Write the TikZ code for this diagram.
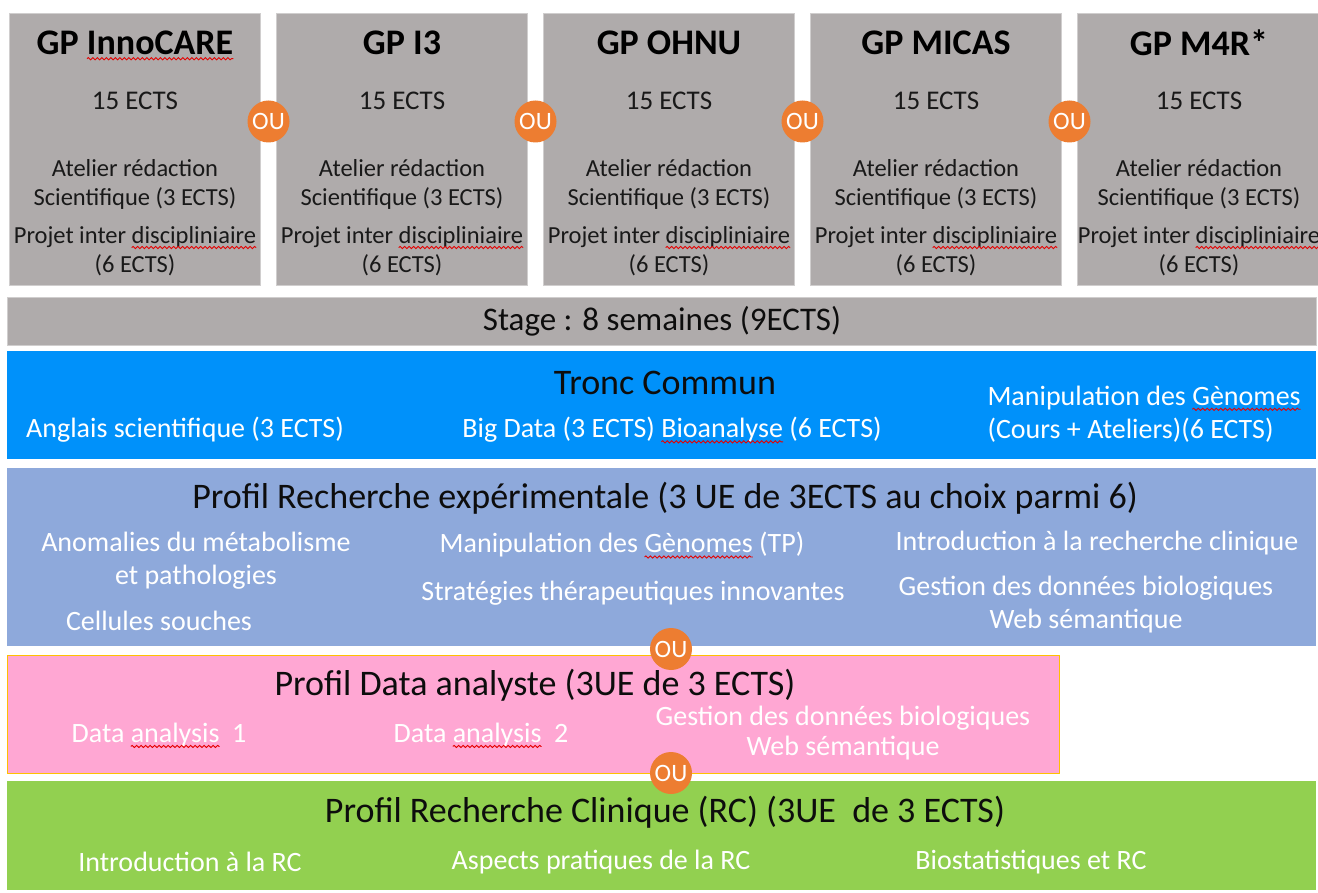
\documentclass[tikz,border=0pt]{standalone}
\usepackage{fontspec}
\setmainfont{Carlito}
\usetikzlibrary{positioning,calc,decorations.pathmorphing}

\definecolor{gpgray}{HTML}{AFABAB}
\definecolor{gpedge}{HTML}{D0CECE}
\definecolor{tcblue}{HTML}{0091FA}
\definecolor{reblue}{HTML}{8EA9DB}
\definecolor{dapink}{HTML}{FFA7D3}
\definecolor{daedge}{HTML}{FFC000}
\definecolor{rcgreen}{HTML}{92D050}
\definecolor{ouorange}{HTML}{ED7D31}

% wavy red spell-check line under a word
\newcommand\spell[1]{\tikz[baseline=(sw.base)]{\node[inner sep=0pt,outer sep=0pt,minimum size=0pt,anchor=center,draw=none,fill=none] (sw) {#1};
  \draw[overlay,red!90!black,line width=0.9pt,decorate,decoration={snake,amplitude=1.1pt,segment length=4.5pt}]
    ([yshift=-4pt]sw.base west) -- ([yshift=-4pt]sw.base east);}}

\newcommand\gpbody{{\fontsize{27}{29}\selectfont 15 ECTS}\\[38pt]Atelier rédaction\\Scientifique (3 ECTS)\\[9pt]Projet inter \spell{discipliniaire}\\(6 ECTS)}

\begin{document}
\begin{tikzpicture}[x=1pt, y=-1pt, node distance=15pt,
gpbox/.style = {draw=gpedge, line width=1pt, fill=gpgray, minimum width=251pt, minimum height=272pt, inner sep=0pt, anchor=north west},
gptitle/.style = {font=\fontsize{36}{43}\selectfont\bfseries, text=black},
gptext/.style = {font=\fontsize{24.5}{29}\selectfont, align=center, text=black!90},
band/.style = {anchor=north west, inner sep=0pt},
bandtitle/.style = {font=\fontsize{36}{43}\selectfont, text=black!95},
item/.style = {font=\fontsize{28}{33}\selectfont, text=white, align=center},
ou/.style = {circle, fill=ouorange, text=white, minimum size=42pt, inner sep=0pt, font=\fontsize{25}{25}\selectfont}]
    \useasboundingbox (0,0) rectangle (1318,893);
    \fill[white] (0,0) rectangle (1318,893);

    % grands projets
    \node [gpbox] at (9,13)      (g1) {};
    \node [gpbox, right=of g1]   (g2) {};
    \node [gpbox, right=of g2]   (g3) {};
    \node [gpbox, right=of g3]   (g4) {};
    \node [gpbox, right=of g4, minimum width=243pt] (g5) {};
    \node [gptitle] at ($(g1.north)+(0,30)$) (t1) {GP \spell{InnoCARE}};
    \node [gptitle] at ($(g2.north)+(0,30)$) (t2) {GP I3};
    \node [gptitle] at ($(g3.north)+(0,30)$) (t3) {GP OHNU};
    \node [gptitle] at ($(g4.north)+(0,30)$) (t4) {GP MICAS};
    \node [gptitle] at ($(g5.north)+(0,30)$) (t5) {GP M4R*};
    \node [gptext] at ($(g1.north)+(0,171)$) (b1) {\gpbody};
    \node [gptext] at ($(g2.north)+(0,171)$) (b2) {\gpbody};
    \node [gptext] at ($(g3.north)+(0,171)$) (b3) {\gpbody};
    \node [gptext] at ($(g4.north)+(0,171)$) (b4) {\gpbody};
    \node [gptext] at ($(g5.north)+(0,171)$) (b5) {\gpbody};
    \node [ou] at ($(g1.east)!0.5!(g2.west)+(0,-28)$) (o1) {OU};
    \node [ou] at ($(g2.east)!0.5!(g3.west)+(0,-28)$) (o2) {OU};
    \node [ou] at ($(g3.east)!0.5!(g4.west)+(0,-28)$) (o3) {OU};
    \node [ou] at ($(g4.east)!0.5!(g5.west)+(0,-28)$) (o4) {OU};

    % stage
    \node [band, draw=gpedge, line width=1pt, fill=gpgray, minimum width=1309pt, minimum height=48pt] at (7,297) (st) {};
    \node [font=\fontsize{33}{40}\selectfont, text=black!95] at (st.center) (stt) {Stage : 8 semaines (9ECTS)};

    % tronc commun
    \node [band, fill=tcblue, minimum width=1309pt, minimum height=108pt] at (7,351) (tc) {};
    \node [bandtitle] at (665,383) (tct) {Tronc Commun};
    \node [item] at (185,430) (tc1) {Anglais scientifique (3 ECTS)};
    \node [item] at (672,430) (tc2) {Big Data (3 ECTS) \spell{Bioanalyse} (6 ECTS)};
    \node [item, align=left, anchor=west] at (984,414) (tc3) {Manipulation des \spell{Gènomes}\\(Cours + Ateliers)(6 ECTS)};

    % profil recherche experimentale
    \node [band, fill=reblue, minimum width=1309pt, minimum height=178pt] at (7,468) (re) {};
    \node [bandtitle] at (665,498) (ret) {Profil Recherche expérimentale (3 UE de 3ECTS au choix parmi 6)};
    \node [item] at (196,561) (re1) {Anomalies du métabolisme\\et pathologies};
    \node [item] at (159,621) (re2) {Cellules souches};
    \node [item] at (622,545) (re3) {Manipulation des \spell{Gènomes} (TP)};
    \node [item] at (633,593) (re4) {Stratégies thérapeutiques innovantes};
    \node [item] at (1097,543) (re5) {Introduction à la recherche clinique};
    \node [item] at (1086,605) (re6) {Gestion des données biologiques\\Web sémantique};

    % profil data analyste
    \node [band, draw=daedge, line width=1pt, fill=dapink, minimum width=1052pt, minimum height=118pt] at (7,655) (da) {};
    \node [bandtitle] at (535,685) (dat) {Profil Data analyste (3UE de 3 ECTS)};
    \node [item] at (159,735) (da1) {Data \spell{analysis}\ \ 1};
    \node [item] at (481,735) (da2) {Data \spell{analysis}\ \ 2};
    \node [item] at (843,733) (da3) {Gestion des données biologiques\\[-3pt]Web sémantique};

    % profil recherche clinique
    \node [band, fill=rcgreen, minimum width=1309pt, minimum height=109pt] at (7,781) (rc) {};
    \node [bandtitle] at (665,812) (rct) {Profil Recherche Clinique (RC) (3UE\ \ de 3 ECTS)};
    \node [item] at (190,862) (rc1) {Introduction à la RC};
    \node [item] at (601,862) (rc2) {Aspects pratiques de la RC};
    \node [item] at (1031,862) (rc3) {Biostatistiques et RC};

    \node [ou] at (671,649) (o5) {OU};
    \node [ou] at (671,773) (o6) {OU};
\end{tikzpicture}
\end{document}
